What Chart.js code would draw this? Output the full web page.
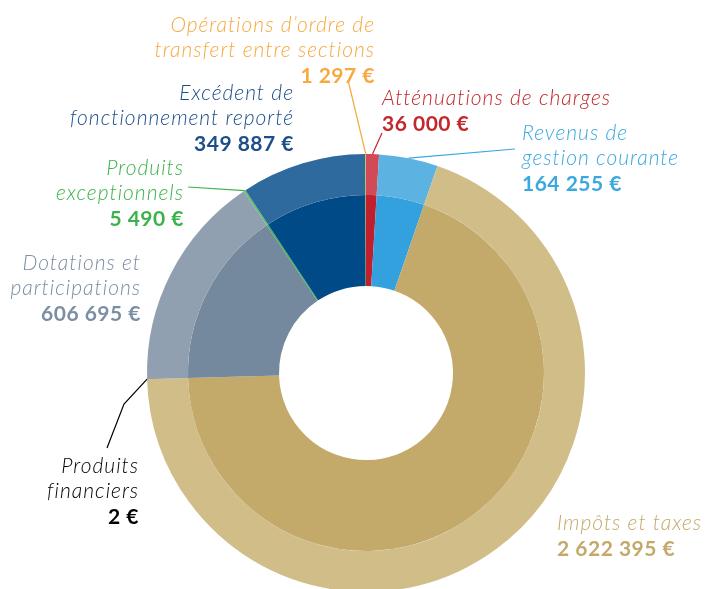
<!DOCTYPE html>
<html lang="fr">
<head>
<meta charset="utf-8">
<script src="https://cdn.jsdelivr.net/npm/chart.js@4.4.1/dist/chart.umd.min.js"></script>
<style>
html,body{margin:0;padding:0;background:#fff;overflow:hidden;}
#wrap{position:relative;width:708px;height:600px;}
</style>
</head>
<body>
<div id="wrap"><canvas id="myChart"></canvas></div>
<script>
// data, clockwise from the top
var categories = ["Atténuations de charges", "Revenus de gestion courante", "Impôts et taxes", "Produits financiers",
  "Dotations et participations", "Produits exceptionnels", "Excédent de fonctionnement reporté",
  "Opérations d’ordre de transfert entre sections"];
var values = [36000, 164255, 2622395, 2, 606695, 5490, 349887, 1297];
var labelLines = [
  ["Atténuations de charges"],
  ["Revenus de", "gestion courante"],
  ["Impôts et taxes"],
  ["Produits", "financiers"],
  ["Dotations et", "participations"],
  ["Produits", "exceptionnels"],
  ["Excédent de", "fonctionnement reporté"],
  ["Opérations d’ordre de", "transfert entre sections"]
];
var innerColors = ["#c0202e", "#33a1dd", "#c4aa6a", "#000000", "#74899e", "#3cb54a", "#004a87", "#ffe000"];
var outerColors = ["#d14a57", "#5cb3e2", "#d1bd88", "#000000", "#91a0b1", "#5dc26b", "#2f6a9f", "#ffe000"];
var textColors = ["#c1272d", "#3aa8e0", "#c4aa6a", "#000000", "#7b8ea3", "#3cb34a", "#1c4f8a", "#f7a940"];

// label layout: x, first baseline, alignment
var labelPos = [
  {x: 382, y: 105, a: "left"},
  {x: 522, y: 140, a: "left"},
  {x: 557, y: 530, a: "left"},
  {x: 139, y: 473, a: "right"},
  {x: 141, y: 270, a: "right"},
  {x: 184, y: 175, a: "right"},
  {x: 294, y: 100, a: "right"},
  {x: 375, y: 32, a: "right"}
];
// leader lines: points from the label, last point is on the ring
var leaders = {
  0: {pts: [[382, 133]], at: "mid"},
  1: {pts: [[515, 149]], at: "mid"},
  3: {pts: [[107, 448], [124, 404]], at: "start"},
  5: {pts: [[188, 187]], at: "mid"},
  7: {pts: [[348, 80]], at: "mid"}
};

function fmt(v) {
  return String(v).replace(/\B(?=(\d{3})+(?!\d))/g, " ") + " €";
}

var labelPlugin = {
  id: "labels",
  afterDraw: function(chart) {
    var ctx = chart.ctx;
    var arcs = chart.getDatasetMeta(0).data;
    ctx.save();
    // leader lines
    Object.keys(leaders).forEach(function(k) {
      var i = +k, arc = arcs[i], L = leaders[k];
      var ang = L.at == "start" ? arc.startAngle : (arc.startAngle + arc.endAngle) / 2;
      var r = arc.outerRadius;
      ctx.beginPath();
      ctx.moveTo(L.pts[0][0], L.pts[0][1]);
      for (var j = 1; j < L.pts.length; j++) ctx.lineTo(L.pts[j][0], L.pts[j][1]);
      ctx.lineTo(arc.x + r * Math.cos(ang), arc.y + r * Math.sin(ang));
      ctx.strokeStyle = textColors[i];
      ctx.lineWidth = 1.2;
      ctx.stroke();
    });
    // texts
    labelLines.forEach(function(lines, i) {
      var p = labelPos[i];
      ctx.textAlign = p.a;
      ctx.textBaseline = "alphabetic";
      ctx.fillStyle = textColors[i];
      ctx.font = "italic 300 21px Lato";
      ctx.letterSpacing = "1px";
      lines.forEach(function(t, j) {
        ctx.fillText(t, p.x, p.y + j * 25);
      });
      ctx.font = "bold 21px Lato";
      ctx.letterSpacing = "0.5px";
      ctx.fillText(fmt(values[i]), p.x, p.y + (lines.length - 1) * 25 + 26);
    });
    ctx.restore();
  }
};

new Chart("myChart", {
  type: "doughnut",
  data: {
    labels: categories,
    datasets: [{
      data: values,
      backgroundColor: outerColors,
      borderWidth: 0,
      hoverOffset: 0,
      weight: 41
    }, {
      data: values,
      backgroundColor: innerColors,
      borderWidth: 0,
      hoverOffset: 0,
      weight: 91
    }]
  },
  options: {
    responsive: true,
    maintainAspectRatio: false,
    animation: false,
    cutout: 87,
    layout: {padding: {left: 147, right: 123, top: 154, bottom: 8}},
    plugins: {legend: {display: false}, tooltip: {enabled: false}}
  },
  plugins: [labelPlugin]
});
</script>
</body>
</html>
